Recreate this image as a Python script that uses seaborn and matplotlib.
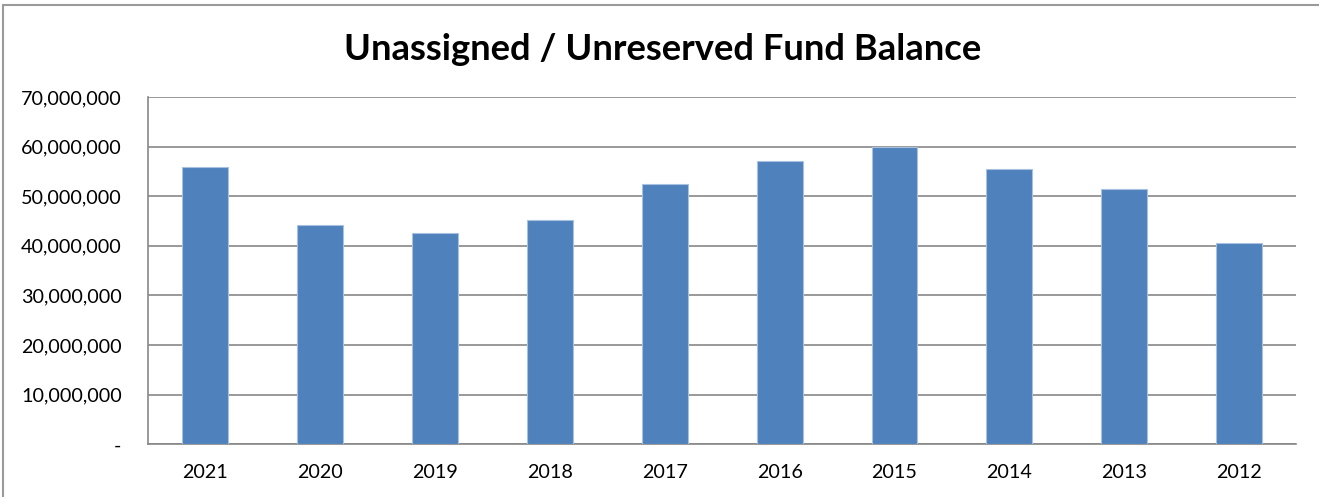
import matplotlib
matplotlib.use("Agg")
import matplotlib.pyplot as plt
import matplotlib.ticker as mticker
from matplotlib.patches import Rectangle
import seaborn as sns
import pandas as pd

years = ["2021", "2020", "2019", "2018", "2017", "2016", "2015", "2014", "2013", "2012"]
balances = [55.9e6, 44.2e6, 42.5e6, 45.2e6, 52.5e6, 57.1e6, 59.9e6, 55.5e6, 51.4e6, 40.6e6]
y_ticks = [0, 10e6, 20e6, 30e6, 40e6, 50e6, 60e6, 70e6]

sns.set_style("white")
plt.rcParams["font.family"] = ["Lato", "DejaVu Sans"]

df = pd.DataFrame({"Year": years, "Balance": balances})

fig = plt.figure(figsize=(13.19, 4.97), dpi=100)
ax = fig.add_axes([0.1122, 0.106, 0.8707, 0.6988])

sns.barplot(data=df, x="Year", y="Balance", order=years, color="#4F81BD",
            width=0.4, saturation=1, edgecolor="#A9C1E0", linewidth=0.8,
            ax=ax, zorder=3)

ax.set_ylim(0, 70e6)
ax.set_xlim(-0.5, len(years) - 0.5)
ax.set_yticks(y_ticks)
ax.yaxis.set_major_formatter(mticker.FuncFormatter(
    lambda v, p: "-" if v == 0 else f"{v:,.0f}"))
ax.grid(axis="y", color="#878787", linewidth=1.2, zorder=0)
ax.set_axisbelow(True)

for side in ("top", "right"):
    ax.spines[side].set_visible(False)
for side in ("left", "bottom"):
    ax.spines[side].set_color("#878787")
    ax.spines[side].set_linewidth(1.2)

ax.tick_params(axis="both", length=0, labelsize=14.2, colors="black")
ax.tick_params(axis="y", pad=19)
ax.tick_params(axis="x", pad=14.5)
ax.set_xlabel("")
ax.set_ylabel("")

fig.text(0.502, 1 - 50 / 497,
         "Unassigned / Unreserved Fund Balance",
         ha="center", va="center", fontsize=26.2, fontweight="bold",
         color="black")

# outer chart frame
fig.patches.append(Rectangle((3 / 1319, -0.1), 1.2, 1 - 5 / 497 + 0.1,
                             transform=fig.transFigure, fill=False,
                             edgecolor="#9A9A9A", linewidth=1.5))

fig.savefig("out.png", dpi=100)
